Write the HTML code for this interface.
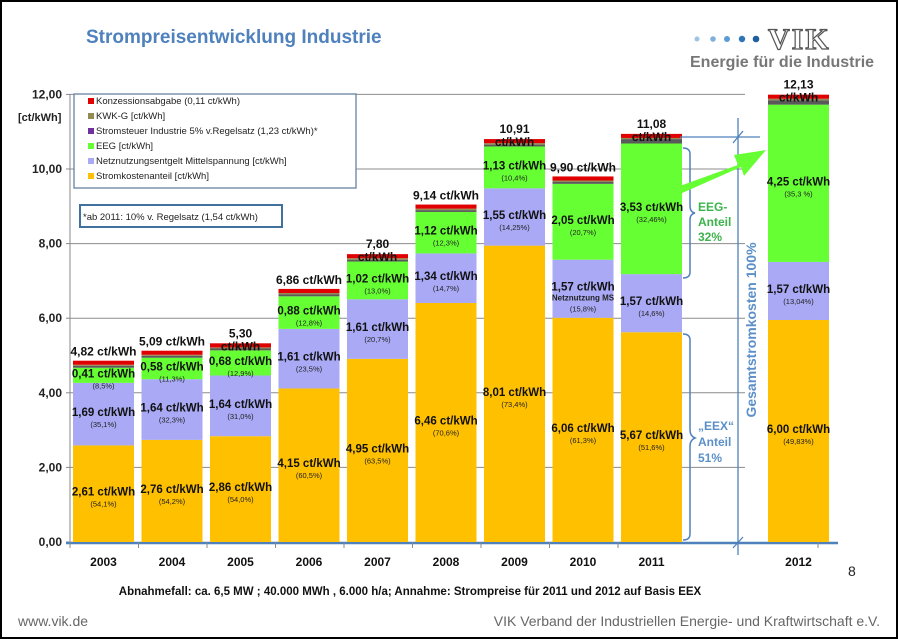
<!DOCTYPE html>
<html><head><meta charset="utf-8"><style>
html,body{margin:0;padding:0;background:#fff}
svg{display:block;font-family:"Liberation Sans",sans-serif}
</style></head><body>
<svg id="chart" width="898" height="639" viewBox="0 0 898 639" xmlns="http://www.w3.org/2000/svg">
<rect x="1" y="1" width="896" height="637" fill="#fff" stroke="#000" stroke-width="2"/>
<text x="86" y="43" font-size="19" font-weight="bold" fill="#4F81BD">Strompreisentwicklung Industrie</text>
<g>
<circle cx="697" cy="39" r="2.5" fill="#9dc3e6"/><circle cx="713" cy="39" r="2.8" fill="#7fb0dc"/><circle cx="727" cy="39" r="3" fill="#5b9bd5"/><circle cx="742" cy="39" r="3.2" fill="#2e75b6"/><circle cx="756" cy="39" r="3.3" fill="#1f5f9f"/>
<text x="768" y="49" font-size="30" font-weight="bold" fill="#fff" stroke="#555" stroke-width="1.2" font-family="Liberation Serif,serif" letter-spacing="2">VIK</text>
<text x="690" y="67" font-size="16" font-weight="bold" fill="#777">Energie für die Industrie</text>
</g>
<g id="grid"></g>
<g id="bars"></g>
<g id="labels"></g>
<g>
<rect x="74" y="94" width="282" height="94" fill="#fff" stroke="#5a7a9a" stroke-width="1.2"/>
<g font-size="9.5" fill="#222">
<rect x="88" y="98" width="6" height="6" fill="#e00000"/><text x="96" y="104">Konzessionsabgabe (0,11 ct/kWh)</text>
<rect x="88" y="113" width="6" height="6" fill="#948a54"/><text x="96" y="119">KWK-G [ct/kWh]</text>
<rect x="88" y="128" width="6" height="6" fill="#7030a0"/><text x="96" y="134">Stromsteuer Industrie 5% v.Regelsatz (1,23 ct/kWh)*</text>
<rect x="88" y="143" width="6" height="6" fill="#66ff33"/><text x="96" y="149">EEG [ct/kWh]</text>
<rect x="88" y="158" width="6" height="6" fill="#a9a9f5"/><text x="96" y="164">Netznutzungsentgelt Mittelspannung [ct/kWh]</text>
<rect x="88" y="173" width="6" height="6" fill="#ffc000"/><text x="96" y="179">Stromkostenanteil [ct/kWh]</text>
</g>
<rect x="80" y="205" width="202" height="22" fill="#fff" stroke="#41719c" stroke-width="2"/>
<text x="83" y="220" font-size="9.5" fill="#222">*ab 2011: 10% v. Regelsatz (1,54 ct/kWh)</text>
</g>
<text x="18" y="121" font-size="11" font-weight="bold" fill="#222">[ct/kWh]</text>
<g>
<path d="M683,148 q7,0 7,6 v52 q0,6 5,7 q-5,1 -5,7 v52 q0,6 -7,6" fill="none" stroke="#4F81BD" stroke-width="1.5"/>
<text font-size="12" font-weight="bold" fill="#3cb44b"><tspan x="698" y="211">EEG-</tspan><tspan x="698" y="226">Anteil</tspan><tspan x="698" y="241">32%</tspan></text>
<path d="M683,334 q7,0 7,6 v90 q0,6 5,8 q-5,2 -5,8 v88 q0,6 -7,6" fill="none" stroke="#4F81BD" stroke-width="1.5"/>
<text font-size="12" font-weight="bold" fill="#5b8fc9"><tspan x="698" y="430">„EEX“</tspan><tspan x="698" y="446">Anteil</tspan><tspan x="698" y="462">51%</tspan></text>
<line x1="738" y1="118" x2="738" y2="555" stroke="#4F81BD" stroke-width="1.3"/>
<line x1="680" y1="137" x2="760" y2="137" stroke="#4F81BD" stroke-width="1.3"/>
<line x1="733" y1="143" x2="743" y2="131" stroke="#4F81BD" stroke-width="1.3"/>
<line x1="733" y1="548" x2="743" y2="537" stroke="#4F81BD" stroke-width="1.3"/>
<text transform="translate(756,330) rotate(-90)" text-anchor="middle" font-size="14" font-weight="bold" fill="#5b8fc9">Gesamtstromkosten 100%</text>
<path d="M652,196 L738,165 L734,155 L766,150 L744,176 L741,167 L655,205 Z" fill="#66ff33"/>
</g>
<text x="410" y="595" text-anchor="middle" font-size="11.5" font-weight="bold" fill="#111">Abnahmefall: ca. 6,5 MW ; 40.000 MWh , 6.000 h/a; Annahme: Strompreise für 2011 und 2012 auf Basis  EEX</text>
<text x="848" y="576" font-size="14" fill="#222">8</text>
<text x="18" y="626" font-size="14" fill="#666">www.vik.de</text>
<text x="880" y="626" text-anchor="end" font-size="14" fill="#666">VIK Verband der Industriellen Energie- und Kraftwirtschaft e.V.</text>
</svg>
<script>
const years=["2003","2004","2005","2006","2007","2008","2009","2010","2011","2012"];
const strom=[2.61,2.76,2.86,4.15,4.95,6.46,8.01,6.06,5.67,6.00];
const netz=[1.69,1.64,1.64,1.61,1.61,1.34,1.55,1.57,1.57,1.57];
const eeg=[0.41,0.58,0.68,0.88,1.02,1.12,1.13,2.05,3.53,4.25];
const steuer=[0.05,0.05,0.05,0.05,0.05,0.05,0.05,0.05,0.12,0.12];
const kwk=[0.03,0.03,0.03,0.04,0.04,0.04,0.04,0.04,0.03,0.04];
const konz=[0.11,0.11,0.11,0.11,0.11,0.11,0.11,0.11,0.11,0.11];
const stromPct=["54,1%","54,2%","54,0%","60,5%","63,5%","70,6%","73,4%","61,3%","51,6%","49,83%"];
const netzPct=["35,1%","32,3%","31,0%","23,5%","20,7%","14,7%","14,25%","15,8%","14,6%","13,04%"];
const eegPct=["8,5%","11,3%","12,9%","12,8%","13,0%","12,3%","10,4%","20,7%","32,46%","35,3 %"];
const totalLabels=[["4,82 ct/kWh"],["5,09 ct/kWh"],["5,30","ct/kWh"],["6,86 ct/kWh"],["7,80","ct/kWh"],["9,14 ct/kWh"],["10,91","ct/kWh"],["9,90 ct/kWh"],["11,08","ct/kWh"],["12,13","ct/kWh"]];
const yTicks=[0,2,4,6,8,10,12];
const yTickLabels=["0,00","2,00","4,00","6,00","8,00","10,00","12,00"];

const NS="http://www.w3.org/2000/svg";
const y0=542, ppu=37.3, barPpu=37.0;
function yS(v){return y0-v*ppu;}
function yB(v){return y0-v*barPpu;}
function xS(i){return i<9?73+i*68.5:768;}
const bw=61;
function mk(tag,attrs,parent,text){const e=document.createElementNS(NS,tag);for(const k in attrs)e.setAttribute(k,attrs[k]);if(text!==undefined)e.textContent=text;parent.appendChild(e);return e;}
const grid=document.getElementById('grid'),bars=document.getElementById('bars'),labels=document.getElementById('labels');
yTicks.forEach((t,i)=>{
  if(t>0){const l=mk('line',{x1:70,x2:745,y1:yS(t),y2:yS(t),stroke:'#8c8c8c','stroke-width':1},grid);
  
  }
  mk('line',{x1:66,x2:70,y1:yS(t),y2:yS(t),stroke:'#888'},grid);
  const tx=mk('text',{x:62,y:yS(t)+4,'text-anchor':'end','font-size':12,'font-weight':'bold',fill:'#222'},grid,yTickLabels[i]);
  
  
});
mk('line',{x1:70,x2:70,y1:yS(12),y2:y0,stroke:'#888'},grid);
const ax=mk('line',{x1:66,x2:838,y1:y0+1,y2:y0+1,stroke:'#4F81BD','stroke-width':2.5},grid);


for(let i=0;i<=9;i++){const x=i<9?70+i*68.5:818;mk('line',{x1:x,x2:x,y1:y0,y2:y0+6,stroke:'#888'},grid);}
const layers=[[strom,'#ffc000'],[netz,'#a9a9f5'],[eeg,'#66ff33'],[steuer,'#595959'],[kwk,'#948a54'],[konz,'#e00000']];
const lnames=['stromkosten','netz','eeg','stromsteuer','kwk','konzession'];
years.forEach((yr,i)=>{
  const x=xS(i);let base=0;
  layers.forEach((L,j)=>{
    const v=L[0][i];
    const r=mk('rect',{x:x,y:yB(base+v),width:bw,height:v*barPpu,fill:L[1]},bars);
    
    
    if(j<3){
      const cy=yB(base+v/2);const cx=x+bw/2;
      const vt=mk('text',{x:cx,y:cy+2,'text-anchor':'middle','font-size':11.5,'font-weight':'bold',fill:'#111'},labels,v.toFixed(2).replace('.',',')+' ct/kWh');
      
      
      const pcts=[stromPct,netzPct,eegPct][j];
      let py=cy+13;
      if(j===1&&i===7){mk('text',{x:cx,y:cy+12,'text-anchor':'middle','font-size':8,'font-weight':'bold',fill:'#222'},labels,'Netznutzung MS');py=cy+23;}
      const pt=mk('text',{x:cx,y:py,'text-anchor':'middle','font-size':7.5,fill:'#222'},labels,'('+pcts[i]+')');
      
      
    }
    base+=v;
  });
  const tl=totalLabels[i];
  const top=yB(base);
  tl.forEach((s,k)=>{
    const t=mk('text',{x:x+bw/2,y:tl.length===2?top-6+k*13:top-5,'text-anchor':'middle','font-size':12,'font-weight':'bold',fill:'#111'},labels,s);
    
    
  });
  const c=mk('text',{x:x+bw/2,y:566,'text-anchor':'middle','font-size':12,'font-weight':'bold',fill:'#111'},labels,yr);
  
  
});
</script>
</body></html>
